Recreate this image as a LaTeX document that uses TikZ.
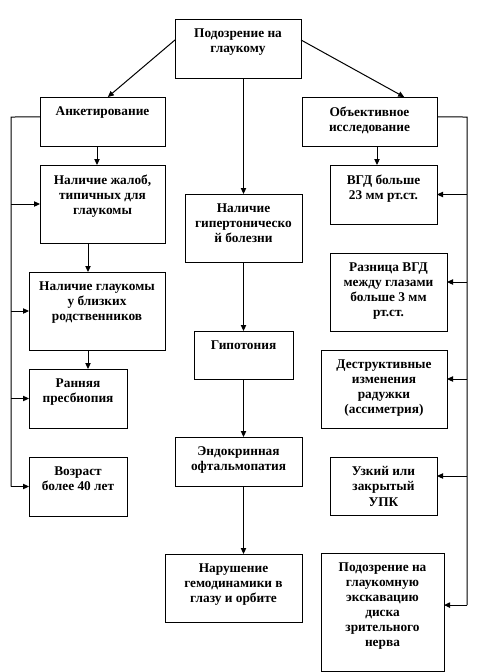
\documentclass[tikz,border=0pt]{standalone}
\usepackage{fontspec}
\setmainfont{Liberation Serif}
\usetikzlibrary{arrows.meta}
\tikzset{
  box/.style={draw=black, line width=0.75pt, inner sep=0pt, outer sep=0pt, fill=white},
  lbl/.style={anchor=north, align=center, inner sep=0pt, yshift=-7.1pt,
    font=\fontsize{10}{11.3}\selectfont\bfseries},
  conn/.style={draw=black, line width=0.75pt},
  arr/.style={conn, -{Triangle[length=4.5pt,width=4pt]}},
}
\newcommand\mybox[6]{%
  \node[box, anchor=north west,
        minimum width={(#4-#2)*0.75pt}, minimum height={(#5-#3)*0.75pt},
        label={[lbl]north:{#6}}] (#1) at (#2,#3) {};}
\begin{document}
\begin{tikzpicture}[x=0.75pt, y=-0.75pt]
\useasboundingbox[fill=white] (0,0) rectangle (487,672);

% top
\mybox{top}{175}{19}{301}{78}{Подозрение на\\глаукому}
\mybox{ank}{40}{97}{165}{146}{Анкетирование}
\mybox{obj}{302}{97}{437}{146}{Объективное\\исследование}

% left column
\mybox{zhal}{40}{165}{165}{243}{Наличие жалоб,\\типичных для\\глаукомы}
\mybox{rod}{29}{272}{165}{350}{Наличие глаукомы\\у близких\\родственников}
\mybox{ran}{29}{369}{127}{428}{Ранняя\\пресбиопия}
\mybox{vozr}{29}{457}{127}{516}{Возраст\\более 40 лет}

% centre column
\mybox{gip}{185}{194}{302}{262}{Наличие\\гипертоническо\\й болезни}
\mybox{gipot}{194}{331}{293}{379}{Гипотония}
\mybox{endo}{175}{437}{302}{486}{Эндокринная\\офтальмопатия}
\mybox{nar}{165}{554}{302}{622}{Нарушение\\гемодинамики в\\глазу и орбите}

% right column
\mybox{vgd}{330}{165}{437}{224}{ВГД больше\\23 мм рт.ст.}
\mybox{raz}{330}{253}{447}{331}{Разница ВГД\\между глазами\\больше 3 мм\\рт.ст.}
\mybox{des}{321}{350}{447}{428}{Деструктивные\\изменения\\радужки\\(ассиметрия)}
\mybox{uzk}{330}{457}{437}{515}{Узкий или\\закрытый\\УПК}
\mybox{podg}{321}{553}{444}{671}{Подозрение на\\глаукомную\\экскавацию\\диска\\зрительного\\нерва}

% bus coordinates
\coordinate (L) at (11,117);
\coordinate (R) at (467,117);
\coordinate (C) at (243.5,0);

% from top
\draw[arr] ([yshift=6.4pt]top.west) -- ([xshift=4pt]ank.north);
\draw[arr] ([yshift=6.4pt]top.east) -- ([xshift=26pt]obj.north);
\draw[arr] (C |- top.south) -- (C |- gip.north);

% centre chain
\draw[arr] (C |- gip.south) -- (C |- gipot.north);
\draw[arr] (C |- gipot.south) -- (C |- endo.north);
\draw[arr] (C |- endo.south) -- (C |- nar.north);

% left chain
\coordinate (LA) at (97,0);
\coordinate (LB) at (88,0);
\draw[arr] (LA |- ank.south) -- (LA |- zhal.north);
\draw[arr] (LB |- zhal.south) -- (LB |- rod.north);
\draw[arr] (LB |- rod.south) -- (LB |- ran.north);

% left bus
\draw[conn] ([yshift=3.4pt]ank.west) -- (L) -- (L |- vozr.west);
\draw[arr] (L |- vozr.west) -- (vozr.west);
\draw[arr] (L |- zhal.west) -- (zhal.west);
\draw[arr] (L |- rod.west) -- (rod.west);
\draw[arr] (L |- ran.west) -- (ran.west);

% right chain
\coordinate (RA) at (377,0);
\draw[arr] (RA |- obj.south) -- (RA |- vgd.north);

% right bus
\coordinate (pe) at ([yshift=5.2pt]podg.east);
\draw[conn] ([yshift=3.4pt]obj.east) -- (R) -- (R |- pe);
\draw[arr] (R |- pe) -- (pe);
\draw[arr] (R |- vgd.east) -- (vgd.east);
\coordinate (re) at ([yshift=7.5pt]raz.east);
\draw[arr] (R |- re) -- (re);
\coordinate (de) at ([yshift=7.5pt]des.east);
\draw[arr] (R |- de) -- (de);
\coordinate (ue) at ([yshift=7.5pt]uzk.east);
\draw[arr] (R |- ue) -- (ue);
\end{tikzpicture}
\end{document}
